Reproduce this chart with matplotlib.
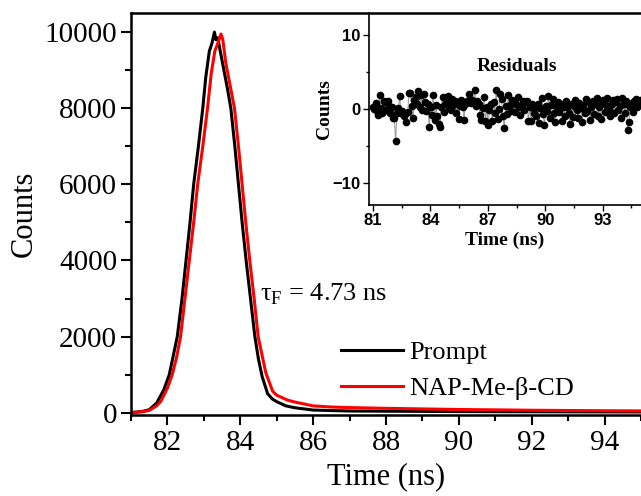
import numpy as np
import matplotlib
matplotlib.use('Agg')
import matplotlib.pyplot as plt
from matplotlib.ticker import MultipleLocator

plt.rcParams['font.family'] = 'Liberation Serif'
plt.rcParams['mathtext.fontset'] = 'custom'
plt.rcParams['mathtext.rm'] = 'Liberation Serif'

##Decay data (time in ns, counts)
prompt_t = [81.0, 81.3, 81.5, 81.7, 81.9, 82.05, 82.15, 82.27, 82.4, 82.51, 82.62,
            82.72, 82.85, 82.97, 83.05, 83.15, 83.22, 83.29, 83.33, 83.38, 83.45,
            83.55, 83.65, 83.74, 83.85, 83.95, 84.05, 84.16, 84.28, 84.4, 84.5,
            84.6, 84.75, 84.88, 85.0, 85.25, 85.5, 86.0, 87.0, 88.0, 90.0, 92.0, 95.0]
prompt_c = [5, 30, 80, 250, 600, 1000, 1450, 2000, 3000, 4000, 5000,
            6000, 7000, 8000, 8800, 9500, 9700, 10000, 9800, 9850, 9500,
            9000, 8500, 8000, 7000, 6000, 5000, 4000, 3000, 2000, 1400,
            950, 500, 360, 290, 180, 130, 70, 45, 40, 30, 25, 20]

sample_t = [81.0, 81.3, 81.5, 81.7, 81.82, 82.0, 82.13, 82.25, 82.36, 82.48, 82.6,
            82.72, 82.83, 82.97, 83.1, 83.2, 83.3, 83.38, 83.47, 83.52, 83.6,
            83.7, 83.84, 83.95, 84.05, 84.15, 84.26, 84.38, 84.49, 84.6, 84.7,
            84.89, 85.0, 85.3, 85.5, 86.0, 86.5, 87.0, 88.0, 89.0, 90.0, 91.0,
            92.0, 93.0, 94.0, 95.0]
sample_c = [5, 25, 60, 180, 300, 650, 1000, 1450, 2000, 3000, 4000,
            5000, 6000, 7000, 8000, 8900, 9500, 9700, 9950, 9800, 9200,
            8700, 8000, 7000, 6000, 5000, 4000, 3000, 2000, 1500, 1050,
            560, 460, 330, 280, 180, 150, 135, 115, 100, 85, 75,
            65, 58, 52, 48]

##Residuals, one value per time channel
res_t0 = 81.0     #first channel (ns)
res_dt = 0.07     #channel width (ns)
residuals = [0.2, 0.0, 0.8, -0.3, -0.8, 1.9, 0.1, -0.5, 1.0, 0.9, -0.2, 1.0, 0.4, -0.6, 0.3, -1.2, -1.3, -4.4, -0.5, 0.1,
             1.7, -0.6, -0.3, -0.9, -0.7, -1.8, -0.4, 2.1, 2.1, 0.4, -1.3, 1.2, 1.6, 0.6, 2.4, 0.2, 1.9, -0.2, 2.0, 0.9,
             -0.3, 0.6, -2.4, 0.3, -0.8, 1.9, -1.5, 0.5, -0.9, -2.0, -2.5, 0.2, 1.6, -0.4, 0.7, 1.0, 1.7, 0.3, -0.2, 1.3,
             0.5, 1.1, -0.6, 0.8, -1.4, 0.4, 1.2, 0.2, -1.5, 0.6, 1.1, 0.9, 2.0, 0.8, 1.2, 1.0, 2.6, 0.4, 1.1, 0.7,
             -0.8, -1.5, 0.1, 1.6, -1.7, 0.3, -2.2, -0.1, 0.6, -1.6, 0.9, -0.5, 2.6, -1.4, 0.0, 2.0, 1.3, -0.9, -2.6, 0.4,
             -0.7, 1.9, 0.5, -0.3, 1.2, 0.8, -0.4, 0.6, 1.6, 0.2, -0.8, 0.4, 1.0, -0.2, 0.9, 1.1, -1.7, 0.3, -1.6, 0.7,
             -0.5, 0.2, -1.0, 0.6, -1.9, 0.1, 1.5, -0.7, -2.2, 0.4, -0.3, 1.8, -1.2, 0.5, 1.3, -0.6, -1.8, 0.2, 0.9, -0.4,
             0.6, -1.6, 0.3, -0.9, 1.0, 0.2, -0.5, -2.0, 0.7, -1.1, 0.4, 1.2, -0.2, -1.3, 0.8, 0.1, -1.8, 0.5, -0.6, 1.3,
             -0.3, 0.9, -1.5, 0.2, 1.1, -0.7, 0.6, 1.4, -0.9, 0.3, -1.4, 0.8, 1.2, -0.4, 0.5, 1.4, 0.0, -1.0, 0.7, 1.2,
             -0.6, 0.9, 1.3, -0.2, 0.4, -1.2, 1.5, 0.6, -0.5, 1.1, -2.9, -1.8, 0.3, 0.8, -0.4, 1.0, 1.3, 0.2, 0.7, 1.2]
res_t = res_t0 + res_dt*np.arange(len(residuals))

###################################################
# Main decay plot
###################################################
fig = plt.figure(figsize=(6.41, 4.96), dpi=100)
ax = fig.add_axes([0.2044, 0.1633, 0.7956, 0.8111])

ax.plot(prompt_t, prompt_c, color='black', lw=2.2, label='Prompt')
ax.plot(sample_t, sample_c, color='red', lw=2.2, label='NAP-Me-\u03b2-CD')

ax.set_xlim(81, 95)
ax.set_ylim(-60, 10510)
ax.xaxis.set_major_locator(MultipleLocator(2))
ax.xaxis.set_minor_locator(MultipleLocator(1))
ax.yaxis.set_major_locator(MultipleLocator(2000))
ax.yaxis.set_minor_locator(MultipleLocator(1000))
ax.tick_params(which='major', direction='out', length=7, width=1.5, labelsize=21, pad=3)
ax.tick_params(axis='x', which='major', pad=4)
ax.tick_params(which='minor', direction='out', length=4, width=1.5)
for s in ['left', 'bottom', 'top']:
    ax.spines[s].set_linewidth(1.8)
ax.spines['right'].set_visible(False)

ax.set_xlabel('Time (ns)', fontsize=22, labelpad=4)
ax.set_ylabel('Counts', fontsize=22, labelpad=4)

ax.text(84.55, 2950, r'τ$_\mathregular{F}$ = 4.73 ns', fontsize=19, va='baseline')

ax.legend(loc='upper left', bbox_to_anchor=(341/641, 1 - 341/496), bbox_transform=fig.transFigure,
          frameon=False, fontsize=19, handlelength=2.35, handletextpad=0.25,
          labelspacing=0.47, borderpad=0, borderaxespad=0)

###################################################
# Residuals inset
###################################################
axin = fig.add_axes([0.5757, 0.5867, 0.4243, 0.3877])
axin.patch.set_alpha(0)
axin.plot(res_t, residuals, color='0.6', lw=0.7, marker='o', ms=4.5,
          mfc='black', mec='black')
axin.set_xlim(80.8, 95)
axin.set_ylim(-13, 13)
axin.xaxis.set_major_locator(MultipleLocator(3))
axin.xaxis.set_minor_locator(MultipleLocator(1.5))
axin.yaxis.set_major_locator(MultipleLocator(10))
axin.yaxis.set_minor_locator(MultipleLocator(5))
axin.tick_params(which='major', direction='out', length=4, width=1.0, pad=2)
axin.tick_params(which='minor', direction='out', length=2.5, width=1.0)
for lab in axin.get_xticklabels() + axin.get_yticklabels():
    lab.set_family('Liberation Sans')
    lab.set_fontweight('bold')
    lab.set_fontsize(12)
axin.spines['top'].set_visible(False)
axin.spines['right'].set_visible(False)
for s in ['left', 'bottom']:
    axin.spines[s].set_linewidth(1.2)

axin.set_xlabel('Time (ns)', fontsize=14, fontweight='bold', labelpad=2.5)
axin.set_ylabel('Counts', fontsize=14, fontweight='bold', labelpad=0)
axin.text(88.5, 5.7, 'Residuals', fontsize=14, fontweight='bold', ha='center', va='center')

fig.savefig('out.png', dpi=100)
